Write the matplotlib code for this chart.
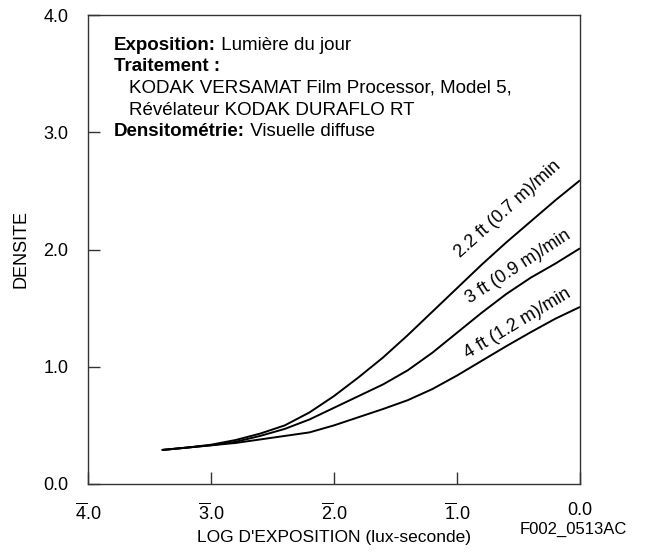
import matplotlib
matplotlib.use('Agg')
import matplotlib.pyplot as plt

plt.rcParams['font.family'] = ['Liberation Sans', 'DejaVu Sans']
plt.rcParams['mathtext.fontset'] = 'custom'
plt.rcParams['mathtext.rm'] = 'Liberation Sans'
plt.rcParams['mathtext.it'] = 'Liberation Sans'

# log exposure (bar notation: -4.0 -> 4bar.0)
log_e = [-3.4, -3.2, -3.0, -2.8, -2.6, -2.4, -2.2, -2.0, -1.8, -1.6, -1.4,
         -1.2, -1.0, -0.8, -0.6, -0.4, -0.2, 0.0]

# density per processor speed
dens_22ft = [0.29, 0.31, 0.335, 0.375, 0.43, 0.50, 0.61, 0.75, 0.91, 1.08, 1.27,
             1.47, 1.67, 1.87, 2.06, 2.24, 2.42, 2.59]
dens_3ft = [0.29, 0.31, 0.33, 0.36, 0.41, 0.47, 0.55, 0.65, 0.75, 0.85, 0.97,
            1.12, 1.29, 1.46, 1.62, 1.76, 1.88, 2.01]
dens_4ft = [0.29, 0.31, 0.33, 0.35, 0.38, 0.41, 0.44, 0.50, 0.57, 0.64, 0.715,
            0.81, 0.925, 1.05, 1.175, 1.295, 1.41, 1.51]

curve_labels = ['2.2 ft (0.7 m)/min', '3 ft (0.9 m)/min', '4 ft (1.2 m)/min']
label_pos = [(-0.585, 2.34, 42), (-0.50, 1.85, 33), (-0.51, 1.37, 31)]

x_ticks = [-4, -3, -2, -1, 0]
x_ticklabels = [r'$\overline{4}$.0', r'$\overline{3}$.0', r'$\overline{2}$.0', r'$\overline{1}$.0', '0.0']
y_ticks = [0, 1, 2, 3, 4]
y_ticklabels = ['0.0', '1.0', '2.0', '3.0', '4.0']

fig = plt.figure(figsize=(6.45, 5.54), dpi=100)
ax = fig.add_axes([88/645, 1-484/554, 492/645, 469/554])

for d in (dens_22ft, dens_3ft, dens_4ft):
    ax.plot(log_e, d, color='black', linewidth=1.4, solid_capstyle='butt',
            solid_joinstyle='round')

for txt, (lx, ly, rot) in zip(curve_labels, label_pos):
    ax.text(lx, ly, txt, rotation=rot, rotation_mode='anchor',
            ha='center', va='center', fontsize=13)

ax.set_xlim(-4, 0)
ax.set_ylim(0, 4)
ax.set_xticks(x_ticks)
ax.set_xticklabels(x_ticklabels)
ax.set_yticks(y_ticks)
ax.set_yticklabels(y_ticklabels)
ax.tick_params(direction='in', length=8.6, width=1, color='#333333', labelsize=13)
ax.tick_params(axis='y', pad=14)
ax.tick_params(axis='x', pad=13)
for s in ax.spines.values():
    s.set_linewidth(1)
    s.set_color('#333333')

ax.set_xlabel("LOG D'EXPOSITION (lux-seconde)", fontsize=12.5, labelpad=5)
ax.set_ylabel('DENSITE', fontsize=13, labelpad=10)

# info block
lines = [
    ('Exposition:', ' Lumière du jour', 0),
    ('Traitement :', '', 0),
    ('', 'KODAK VERSAMAT Film Processor, Model 5,', 1),
    ('', 'Révélateur KODAK DURAFLO RT', 1),
    ('Densitométrie:', ' Visuelle diffuse', 0),
]
y0 = (484 - 49.5) / 469
dy = 21.7 / 469
for i, (bold, reg, indent) in enumerate(lines):
    yy = y0 - i * dy
    xx = (114 - 88) / 492 + indent * (15 / 492)
    if bold:
        t = ax.text(xx, yy, bold, transform=ax.transAxes, fontsize=13.5,
                    fontweight='bold', va='baseline', ha='left')
        if reg:
            ax.annotate(reg, xy=(1, 0), xycoords=t, va='bottom', ha='left',
                        fontsize=13.5)
    else:
        ax.text(xx, yy, reg, transform=ax.transAxes, fontsize=13.5,
                va='baseline', ha='left')

fig.text(573/645, 1-529/554, 'F002_0513AC', fontsize=12, ha='center', va='center')

fig.savefig('out.png', dpi=100)
